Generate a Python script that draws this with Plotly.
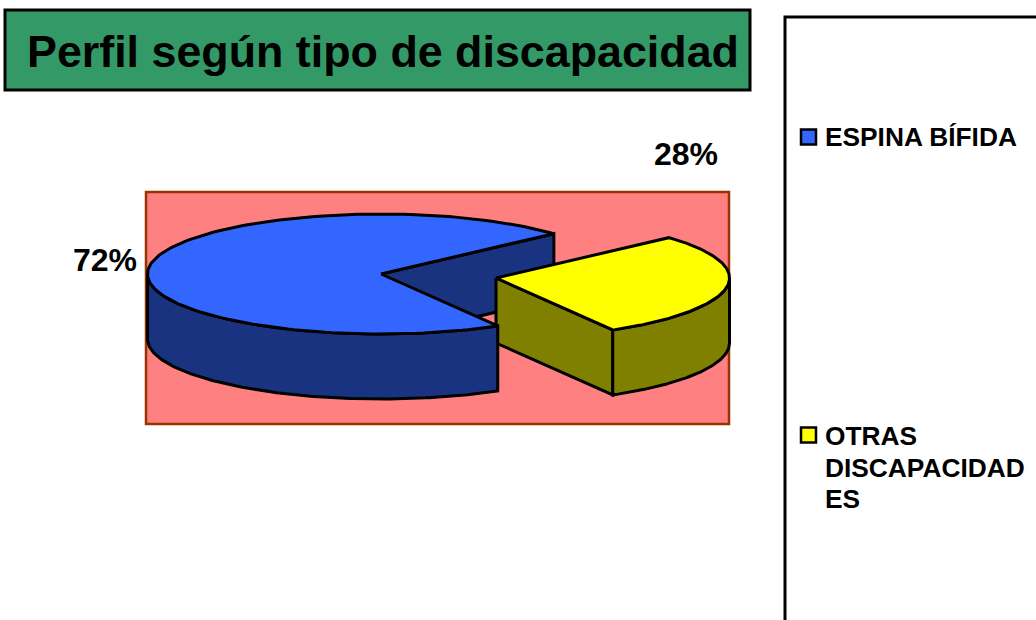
import numpy as np
import plotly.graph_objects as go

title = "Perfil según tipo de discapacidad"
legend_lines = [["ESPINA BÍFIDA"], ["OTRAS", "DISCAPACIDAD", "ES"]]
legend_names = ["ESPINA BÍFIDA", "OTRAS DISCAPACIDADES"]
values = [71.6, 28.4]
top_colors = ["#3366FF", "#FFFF00"]
side_colors = ["#1A3380", "#808000"]

W, H = 1036, 620
RX, RY, DEPTH = 233.5, 60, 65
centers = [(381, 274), (496, 278)]
FONT = "Liberation Sans, Arial, sans-serif"

fracs = np.array(values) / sum(values) * 360
yellow_start = -60.0
yellow_end = yellow_start + fracs[1]
blue_start = yellow_end
blue_end = blue_start + fracs[0]


def rim(c, a0, a1, dy=0, n=160):
    t = np.radians(np.linspace(a0, a1, n))
    return c[0] + RX * np.cos(t), c[1] - RY * np.sin(t) + dy


def pt(c, a, dy=0):
    t = np.radians(a)
    return c[0] + RX * np.cos(t), c[1] - RY * np.sin(t) + dy


fig = go.Figure()


def poly(xs, ys, color):
    fig.add_trace(go.Scatter(
        x=list(xs), y=list(ys), mode="lines", fill="toself", fillcolor=color,
        line=dict(color="black", width=3), hoverinfo="skip", showlegend=False))


def wedge(c, a0, a1, color):
    x, y = rim(c, a0, a1)
    poly([c[0], *x, c[0]], [c[1], *y, c[1]], color)


def outer_wall(c, a0, a1, color):
    x, y = rim(c, a0, a1)
    xb, yb = rim(c, a1, a0, DEPTH)
    poly([*x, *xb, x[0]], [*y, *yb, y[0]], color)


def inner_wall(c, a, color):
    px, py = pt(c, a)
    poly([c[0], px, px, c[0], c[0]], [c[1], py, py + DEPTH, c[1] + DEPTH, c[1]], color)


cb, cy_ = centers
inner_wall(cb, blue_start, side_colors[0])
inner_wall(cy_, yellow_start, side_colors[1])
outer_wall(cy_, yellow_start, 0, side_colors[1])
wedge(cy_, yellow_start, yellow_end, top_colors[1])
outer_wall(cb, 180, blue_end, side_colors[0])
wedge(cb, blue_start, blue_end, top_colors[0])

for yy, col, name in zip([137, 435], top_colors, legend_names):
    fig.add_trace(go.Scatter(
        x=[808.5], y=[yy], mode="markers", name=name, showlegend=False, hoverinfo="name",
        marker=dict(symbol="square", size=15, color=col, line=dict(color="black", width=2.5))))

shapes = [
    dict(type="rect", x0=146, x1=729, y0=192, y1=424, fillcolor="#FF8080",
         line=dict(color="#993300", width=2.5), layer="below"),
    dict(type="rect", x0=5, x1=750, y0=10, y1=90, fillcolor="#339966",
         line=dict(color="black", width=3), layer="below"),
    dict(type="rect", x0=785, x1=1040, y0=17, y1=640, fillcolor="white",
         line=dict(color="black", width=3), layer="below"),
]


def label(x, y, text, size, anchor="left"):
    return dict(x=x, y=y, text=f"<b>{text}</b>", showarrow=False, xanchor=anchor, yanchor="middle",
                align="left", font=dict(family=FONT, size=size, color="black"))


annotations = [
    label(25, 51, title, 44.8),
    label(105, 260, f"{round(values[0])}%", 32, "center"),
    label(686, 154, f"{round(values[1])}%", 32, "center"),
    label(822.5, 137, legend_lines[0][0], 26.3),
]
for yy, line in zip([436, 467.5, 499], legend_lines[1]):
    annotations.append(label(822.5, yy, line, 26.3))

fig.update_layout(
    width=W, height=H, autosize=False, margin=dict(l=0, r=0, t=0, b=0),
    paper_bgcolor="white", plot_bgcolor="white", showlegend=False,
    xaxis=dict(range=[0, W], visible=False, fixedrange=True),
    yaxis=dict(range=[H, 0], visible=False, fixedrange=True),
    shapes=shapes, annotations=annotations,
)
fig.write_html("out.html", config={"displayModeBar": False},
               post_script="document.body.style.margin='0';document.documentElement.style.overflow='hidden';")
